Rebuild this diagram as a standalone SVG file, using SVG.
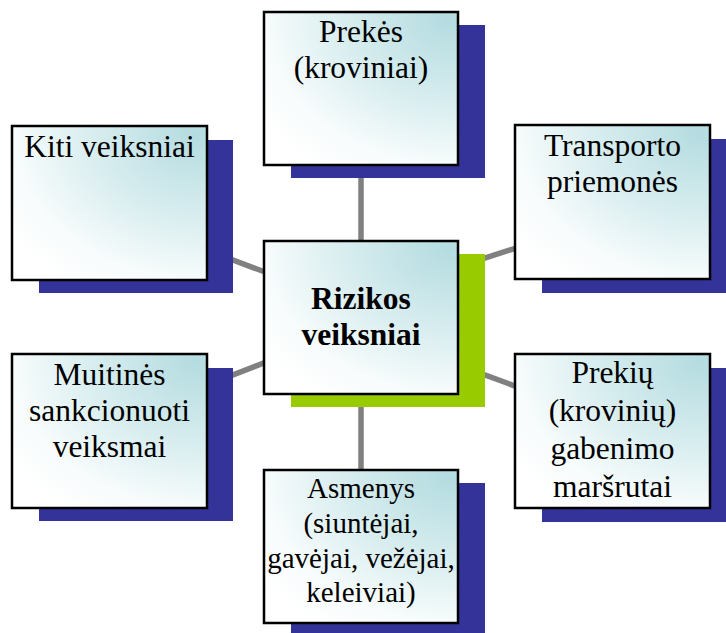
<svg xmlns="http://www.w3.org/2000/svg" width="726" height="633" viewBox="0 0 726 633">
<defs>
<radialGradient id="fill" cx="1" cy="0" r="1.25" fx="0.95" fy="0.05">
<stop offset="0" stop-color="#b4dce0"/>
<stop offset="0.45" stop-color="#d8edef"/>
<stop offset="0.8" stop-color="#f8fcfc"/>
<stop offset="1" stop-color="#ffffff"/>
</radialGradient>
<style>
.box{fill:url(#fill);stroke:#000;stroke-width:2.5}
.sh{fill:#333399}
.shg{fill:#99cc00}
text{font-family:'Liberation Serif','DejaVu Serif','Times New Roman',serif;font-size:31.5px;fill:#000;text-anchor:middle}
.tb{font-weight:bold}
.ts{font-size:29px}
.c{stroke:#808080;stroke-width:5.5;fill:none}
</style>
</defs>
<rect width="726" height="633" fill="#fff"/>
<g id="connectors">
<line class="c" x1="361" y1="100" x2="361" y2="540"/>
<line class="c" x1="180" y1="240" x2="300" y2="285.3"/>
<line class="c" x1="450" y1="269.3" x2="560" y2="233.8"/>
<line class="c" x1="190" y1="391.6" x2="300" y2="349"/>
<line class="c" x1="450" y1="362.2" x2="560" y2="402.5"/>
</g>
<g id="node-prekes">
<rect class="sh" x="291" y="25" width="194" height="153"/>
<rect class="box" x="264" y="12" width="194" height="153"/>
<text x="361" y="42">Prekės</text>
<text x="361" y="78">(kroviniai)</text>
</g>
<g id="node-kiti">
<rect class="sh" x="39" y="140" width="194" height="153"/>
<rect class="box" x="12" y="126" width="195" height="154"/>
<text x="109.5" y="157">Kiti veiksniai</text>
</g>
<g id="node-transporto">
<rect class="sh" x="542" y="139" width="195" height="154"/>
<rect class="box" x="515" y="125" width="195" height="154"/>
<text x="612.5" y="156">Transporto</text>
<text x="612.5" y="192">priemonės</text>
</g>
<g id="node-rizikos">
<rect class="shg" x="291" y="254" width="194" height="153"/>
<rect class="box" x="264" y="241" width="194" height="153"/>
<text class="tb" x="361" y="309">Rizikos</text>
<text class="tb" x="361" y="345">veiksniai</text>
</g>
<g id="node-muitines">
<rect class="sh" x="39" y="368" width="194" height="153"/>
<rect class="box" x="12" y="354" width="195" height="154"/>
<text x="109.5" y="385">Muitinės</text>
<text x="109.5" y="421">sankcionuoti</text>
<text x="109.5" y="457">veiksmai</text>
</g>
<g id="node-prekiu">
<rect class="sh" x="542" y="368" width="195" height="154"/>
<rect class="box" x="515" y="354" width="195" height="154"/>
<text x="612.5" y="383">Prekių</text>
<text x="612.5" y="421">(krovinių)</text>
<text x="612.5" y="459">gabenimo</text>
<text x="612.5" y="497">maršrutai</text>
</g>
<g id="node-asmenys">
<rect class="sh" x="291" y="483" width="194" height="153"/>
<rect class="box" x="264" y="470" width="194" height="153"/>
<text class="ts" x="361" y="498">Asmenys</text>
<text class="ts" x="361" y="533">(siuntėjai,</text>
<text class="ts" x="361" y="568">gavėjai, vežėjai,</text>
<text class="ts" x="361" y="602">keleiviai)</text>
</g>
</svg>
